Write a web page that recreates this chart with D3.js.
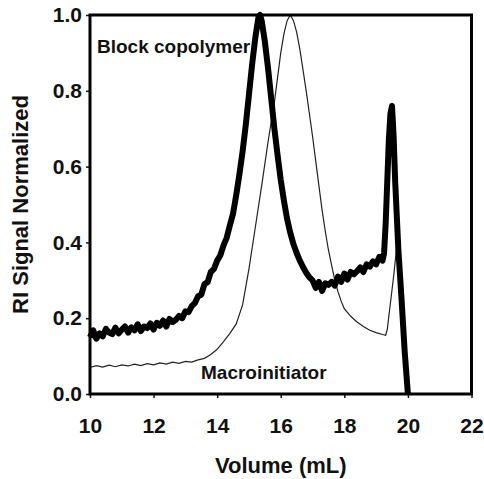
<!DOCTYPE html>
<html>
<head>
<meta charset="utf-8">
<script src="https://cdn.jsdelivr.net/npm/d3@7"></script>
<style>
  html, body { margin: 0; padding: 0; background: #fff; }
  text { font-family: "Liberation Sans", Arial, sans-serif; font-weight: bold; fill: #111; }
</style>
</head>
<body>
<script>
// Block copolymer trace (thick line)
const blockVol = [10.0, 10.1, 10.2, 10.3, 10.4, 10.5, 10.6, 10.7, 10.8, 10.9,
  11.0, 11.1, 11.2, 11.3, 11.4, 11.5, 11.6, 11.7, 11.8, 11.9,
  12.0, 12.1, 12.2, 12.3, 12.4, 12.5, 12.6, 12.7, 12.8, 12.9,
  13.0, 13.1, 13.2, 13.3, 13.4, 13.5, 13.6, 13.7, 13.8, 13.9,
  14.0, 14.1, 14.2, 14.3, 14.4, 14.5, 14.6, 14.7, 14.8, 14.9,
  15.0, 15.1, 15.2, 15.3, 15.35, 15.4, 15.5, 15.6, 15.7, 15.8, 15.9,
  16.0, 16.1, 16.2, 16.3, 16.4, 16.5, 16.6, 16.7, 16.8, 16.9,
  17.0, 17.1, 17.2, 17.3, 17.4, 17.5, 17.6, 17.7, 17.8, 17.9,
  18.0, 18.1, 18.2, 18.3, 18.4, 18.5, 18.6, 18.7, 18.8, 18.9,
  19.0, 19.1, 19.2, 19.25, 19.3, 19.35, 19.4, 19.45, 19.5, 19.55,
  19.6, 19.65, 19.7, 19.8, 19.9, 20.0];
const blockSig = [0.150, 0.168, 0.146, 0.160, 0.152, 0.172, 0.162, 0.158, 0.175, 0.160,
  0.170, 0.178, 0.162, 0.176, 0.168, 0.184, 0.166, 0.178, 0.174, 0.186,
  0.170, 0.188, 0.180, 0.194, 0.178, 0.198, 0.190, 0.196, 0.206, 0.200,
  0.218, 0.216, 0.232, 0.240, 0.258, 0.262, 0.290, 0.295, 0.322, 0.330,
  0.352, 0.366, 0.392, 0.412, 0.445, 0.476, 0.525, 0.580, 0.640, 0.710,
  0.790, 0.870, 0.940, 0.995, 1.0, 0.985, 0.930, 0.860, 0.780, 0.700, 0.630,
  0.565, 0.510, 0.462, 0.425, 0.395, 0.372, 0.352, 0.335, 0.320, 0.308,
  0.300, 0.280, 0.296, 0.272, 0.292, 0.288, 0.296, 0.286, 0.310, 0.296,
  0.318, 0.302, 0.322, 0.316, 0.324, 0.334, 0.322, 0.342, 0.336, 0.350,
  0.342, 0.362, 0.352, 0.372, 0.450, 0.560, 0.670, 0.740, 0.760, 0.680,
  0.560, 0.470, 0.380, 0.250, 0.110, 0.0];

// Macroinitiator trace (thin line)
const macroVol = [10.0, 10.2, 10.4, 10.6, 10.8, 11.0, 11.2, 11.4, 11.6, 11.8,
  12.0, 12.2, 12.4, 12.6, 12.8, 13.0, 13.2, 13.4, 13.6, 13.8,
  14.0, 14.2, 14.4, 14.6, 14.8, 15.0, 15.2, 15.4, 15.6, 15.8,
  16.0, 16.1, 16.2, 16.3, 16.4, 16.5, 16.6, 16.7, 16.8, 16.9,
  17.0, 17.1, 17.2, 17.3, 17.4, 17.5, 17.6, 17.7, 17.8, 17.9,
  18.0, 18.2, 18.4, 18.6, 18.8, 19.0, 19.2, 19.3, 19.35, 19.45,
  19.55, 19.65, 19.7, 19.75, 19.85, 19.95, 20.05];
const macroSig = [0.070, 0.075, 0.071, 0.076, 0.072, 0.077, 0.074, 0.079, 0.075, 0.080,
  0.077, 0.082, 0.079, 0.084, 0.081, 0.086, 0.084, 0.090, 0.094, 0.104,
  0.118, 0.138, 0.160, 0.185, 0.235, 0.330, 0.440, 0.550, 0.665, 0.770,
  0.900, 0.950, 0.985, 1.0, 0.985, 0.955, 0.910, 0.855, 0.800, 0.740,
  0.680, 0.615, 0.550, 0.485, 0.430, 0.380, 0.340, 0.300, 0.270, 0.245,
  0.225, 0.205, 0.190, 0.178, 0.168, 0.162, 0.157, 0.155, 0.170, 0.240,
  0.310, 0.390, 0.385, 0.360, 0.220, 0.080, 0.0];

const xTicks = [10, 12, 14, 16, 18, 20, 22];
const yTicks = [0.0, 0.2, 0.4, 0.6, 0.8, 1.0];

const width = 484, height = 479;
const margin = { top: 15, right: 12.5, bottom: 85, left: 90 };
const innerW = width - margin.left - margin.right;
const innerH = height - margin.top - margin.bottom;

const svg = d3.select("body")
  .append("svg")
  .attr("width", width)
  .attr("height", height);

const g = svg.append("g")
  .attr("transform", `translate(${margin.left},${margin.top})`);

const x = d3.scaleLinear().domain([10, 22]).range([0, innerW]);
const y = d3.scaleLinear().domain([0, 1]).range([innerH, 0]);

// axes
const xAxis = g.append("g")
  .attr("transform", `translate(0,${innerH})`)
  .call(d3.axisBottom(x).tickValues(xTicks).tickSize(4).tickPadding(20).tickFormat(d3.format("d")));
const yAxis = g.append("g")
  .call(d3.axisLeft(y).tickValues(yTicks).tickSize(4).tickPadding(4).tickFormat(d3.format(".1f")));

[xAxis, yAxis].forEach((ax) => {
  ax.select(".domain").remove();
  ax.selectAll(".tick line").attr("stroke", "#111").attr("stroke-width", 1.5);
  ax.selectAll(".tick text").style("font-size", "21px").attr("fill", "#111");
});

// traces
const line = d3.line()
  .x((d) => x(d[0]))
  .y((d) => y(d[1]));

g.append("path")
  .datum(macroVol.map((v, i) => [v, macroSig[i]]))
  .attr("fill", "none")
  .attr("stroke", "#222")
  .attr("stroke-width", 1.2)
  .attr("d", line);

g.append("path")
  .datum(blockVol.map((v, i) => [v, blockSig[i]]))
  .attr("fill", "none")
  .attr("stroke", "#000")
  .attr("stroke-width", 6)
  .attr("stroke-linejoin", "round")
  .attr("d", line);

// frame
g.append("rect")
  .attr("x", 0)
  .attr("y", 0)
  .attr("width", innerW)
  .attr("height", innerH)
  .attr("fill", "none")
  .attr("stroke", "#000")
  .attr("stroke-width", 3);

// series labels
g.append("text")
  .attr("x", 7)
  .attr("y", 38)
  .style("font-size", "19px")
  .text("Block copolymer");

g.append("text")
  .attr("x", 111)
  .attr("y", 364)
  .style("font-size", "19px")
  .text("Macroinitiator");

// axis titles
svg.append("text")
  .attr("x", margin.left + innerW / 2)
  .attr("y", 473)
  .attr("text-anchor", "middle")
  .style("font-size", "22px")
  .text("Volume (mL)");

svg.append("text")
  .attr("transform", "rotate(-90)")
  .attr("x", -(margin.top + innerH / 2))
  .attr("y", 28)
  .attr("text-anchor", "middle")
  .style("font-size", "22px")
  .text("RI Signal Normalized");
</script>
</body>
</html>
